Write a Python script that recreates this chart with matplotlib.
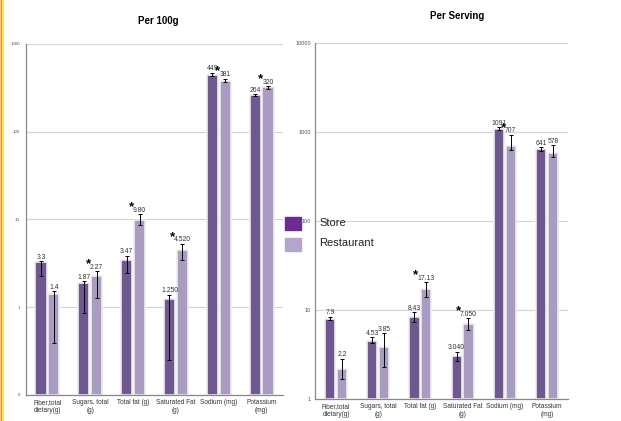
import numpy as np
import matplotlib.pyplot as plt
from matplotlib.patches import Rectangle

plt.rcParams["font.family"] = ["Liberation Sans", "DejaVu Sans"]

# ------------------------------------------------------------
# dados
categorias = ["Fiber,total\ndietary(g)", "Sugars, total\n(g)", "Total fat (g)",
              "Saturated Fat\n(g)", "Sodium (mg)", "Potassium\n(mg)"]

# Per 100g
store_100 = [3.3, 1.87, 3.47, 1.25, 449, 264]
rest_100 = [1.4, 2.27, 9.80, 4.52, 381, 320]
store_100_lbl = ["3.3", "1.87", "3.47", "1.250", "449", "264"]
rest_100_lbl = ["1.4", "2.27", "9.80", "4.520", "381", "320"]
store_100_lo = [2.29, 0.87, 2.43, 0.248, 437, 258]
store_100_hi = [3.33, 1.97, 3.87, 1.39, 470, 269]
rest_100_lo = [0.387, 1.26, 8.7, 3.49, 373, 310]
rest_100_hi = [1.52, 2.56, 11.5, 5.3, 404, 330]
sig_100 = [False, True, True, True, True, True]

# Per Serving
store_srv = [7.9, 4.53, 8.43, 3.04, 1091, 641]
rest_srv = [2.2, 3.85, 17.13, 7.05, 707, 578]
store_srv_lbl = ["7.9", "4.53", "8.43", "3.040", "1091", "641"]
rest_srv_lbl = ["2.2", "3.85", "17.13", "7.050", "707", "578"]
store_srv_lo = [7.7, 4.24, 7.42, 2.66, 1054, 617]
store_srv_hi = [8.45, 4.95, 9.47, 3.41, 1147, 676]
rest_srv_lo = [1.67, 2.29, 14.0, 6.03, 631, 526]
rest_srv_hi = [2.84, 5.5, 20.6, 8.1, 933, 712]
sig_srv = [False, False, True, True, True, False]

COR_STORE = "#6f5890"
COR_REST = "#aa9bc0"


def desenha(ax, st, rs, st_lbl, rs_lbl, st_lo, st_hi, rs_lo, rs_hi, sig,
            ylim, ticks, tick_lbl, base, w, tick_fs, tick_pad):
    x = np.arange(len(categorias))
    off = w / 2 + 0.02
    for xx, vals, lo, hi, cor in [(x - off, st, st_lo, st_hi, COR_STORE),
                                  (x + off, rs, rs_lo, rs_hi, COR_REST)]:
        vals = np.array(vals)
        ax.bar(xx, vals - base, bottom=base, width=w, color=cor,
               edgecolor="#eeeeee", linewidth=1.2, zorder=2)
        err = [vals - np.array(lo), np.array(hi) - vals]
        ax.errorbar(xx, vals, yerr=err, fmt="none", ecolor="black",
                    elinewidth=0.7, capsize=1.3, capthick=0.7, zorder=3)
    for i in range(len(categorias)):
        # rótulo logo acima da barra de erro
        ax.annotate(st_lbl[i], (x[i] - off, st_hi[i]), xytext=(0, 0.3),
                    textcoords="offset points", ha="center", va="bottom",
                    fontsize=4.9, color="#333333", zorder=4)
        t = ax.annotate(rs_lbl[i], (x[i] + off, rs_hi[i]), xytext=(0, 0.3),
                        textcoords="offset points", ha="center",
                        va="bottom", fontsize=4.9, color="#333333", zorder=4)
        if sig[i]:
            # asterisco de significância, colado à esquerda do rótulo
            ax.annotate("*", xy=(0, 0.5), xycoords=t, xytext=(-1.3, 2.2),
                        textcoords="offset points", ha="center",
                        va="center", fontsize=9.5, fontweight="bold",
                        zorder=4)
    ax.set_yscale("log")
    ax.set_ylim(*ylim)
    ax.set_xlim(-0.5, len(categorias) - 0.5)
    ax.set_yticks(ticks)
    ax.set_yticklabels(tick_lbl, fontsize=tick_fs, color="#555555")
    ax.yaxis.set_minor_locator(plt.NullLocator())
    ax.set_xticks(x)
    ax.set_xticklabels(categorias, fontsize=4.7, color="#333333",
                       linespacing=1.2)
    ax.tick_params(axis="x", length=0, pad=3)
    ax.tick_params(axis="y", length=0, pad=tick_pad)
    ax.grid(axis="y", color="#d4d4d4", linewidth=0.8, zorder=0)
    ax.set_axisbelow(True)
    for s in ["top", "right"]:
        ax.spines[s].set_visible(False)
    for s in ["left", "bottom"]:
        ax.spines[s].set_color("#888888")
        ax.spines[s].set_linewidth(0.9)


fig = plt.figure(figsize=(6.21, 4.21), dpi=100)

ax1 = fig.add_axes([0.0419, 0.0618, 0.4138, 0.8337])
desenha(ax1, store_100, rest_100, store_100_lbl, rest_100_lbl,
        store_100_lo, store_100_hi, rest_100_lo, rest_100_hi, sig_100,
        (0.1, 1000), [0.1, 1, 10, 100, 1000],
        ["0", "1", "10", "100", "1000"], 0.1, 0.26, 3.2, 4.5)

ax2 = fig.add_axes([0.5072, 0.0523, 0.4074, 0.8448])
desenha(ax2, store_srv, rest_srv, store_srv_lbl, rest_srv_lbl,
        store_srv_lo, store_srv_hi, rest_srv_lo, rest_srv_hi, sig_srv,
        (1, 10000), [1, 10, 100, 1000, 10000],
        ["1", "10", "100", "1000", "10000"], 1, 0.24, 4, 3)

# títulos
fig.text(158 / 621, 1 - 21.5 / 421, "Per 100g", ha="center", va="center",
         fontsize=7, fontweight="bold")
fig.text(457 / 621, 1 - 16 / 421, "Per Serving", ha="center", va="center",
         fontsize=7, fontweight="bold")

# legenda manual
fig.patches.append(Rectangle((285 / 621, 1 - 230 / 421), 16 / 621, 13 / 421,
                             transform=fig.transFigure, color="#6a2c91",
                             zorder=5))
fig.patches.append(Rectangle((285 / 621, 1 - 251 / 421), 16 / 621, 13 / 421,
                             transform=fig.transFigure, color="#b3a5cc",
                             zorder=5))
fig.text(319 / 621, 1 - 223 / 421, "Store", ha="left", va="center",
         fontsize=8, color="#222222")
fig.text(319 / 621, 1 - 243 / 421, "Restaurant", ha="left", va="center",
         fontsize=8, color="#222222")

# borda à esquerda
fig.patches.append(Rectangle((0, 0), 1 / 621, 1, transform=fig.transFigure,
                             color="#f5e66a", zorder=5))
fig.patches.append(Rectangle((1 / 621, 0), 0.8 / 621, 1,
                             transform=fig.transFigure, color="#e07050",
                             zorder=5))
fig.patches.append(Rectangle((1.8 / 621, 0), 1.5 / 621, 1,
                             transform=fig.transFigure, color="#f5e66a",
                             zorder=5))

fig.savefig("out.png", dpi=100)
